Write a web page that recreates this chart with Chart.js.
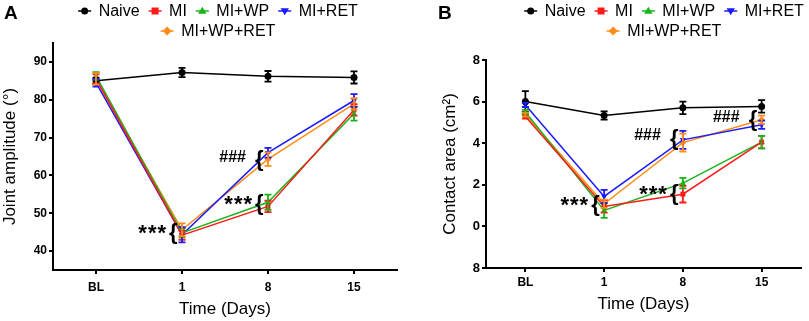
<!DOCTYPE html>
<html>
<head>
<meta charset="utf-8">
<script src="https://cdn.jsdelivr.net/npm/chart.js@4"></script>
<style>
  body { margin: 0; background: #fff; }
  #wrap { position: relative; width: 809px; height: 321px; }
  #chartA { position: absolute; left: 0; top: 0; }
  #chartB { position: absolute; left: 405px; top: 0; }
</style>
</head>
<body>
<div id="wrap">
  <canvas id="chartA" width="405" height="321"></canvas>
  <canvas id="chartB" width="404" height="321"></canvas>
</div>
<script>
  'use strict';

  // shared x categories
  var days = ['BL', '1', '8', '15'];
  var groups = ['Naive', 'MI', 'MI+WP', 'MI+RET', 'MI+WP+RET'];

  // Panel A - joint amplitude (deg)
  var jointNaive = [85.0, 87.2, 86.2, 85.9];
  var jointMI = [85.5, 44.2, 51.8, 77.3];
  var jointWP = [86.3, 44.8, 52.9, 76.3];
  var jointRET = [84.5, 44.3, 66.0, 79.8];
  var jointWPRET = [85.5, 45.6, 64.3, 78.9];
  var jointNaiveErr = [0.8, 1.2, 1.4, 1.6];
  var jointMIErr = [1.2, 1.2, 1.5, 1.5];
  var jointWPErr = [1.0, 1.2, 2.0, 1.8];
  var jointRETErr = [1.0, 2.0, 1.3, 1.7];
  var jointWPRETErr = [1.5, 1.7, 1.8, 1.5];
  var jointTicks = [40, 50, 60, 70, 80, 90];
  var jointNotes = [
    { text: '***', day: '1', value: 44.8 },
    { text: '***', day: '8', value: 52.4 },
    { text: '###', day: '8', value: 64.0 }
  ];

  // Panel B - contact area (cm2)
  var areaNaive = [6.0, 5.33, 5.70, 5.77];
  var areaMI = [5.28, 0.96, 1.55, 4.05];
  var areaWP = [5.50, 0.77, 2.08, 4.05];
  var areaRET = [5.84, 1.44, 4.16, 4.89];
  var areaWPRET = [5.38, 1.09, 4.03, 5.13];
  var areaNaiveErr = [0.5, 0.2, 0.3, 0.3];
  var areaMIErr = [0.1, 0.3, 0.4, 0.3];
  var areaWPErr = [0.1, 0.36, 0.25, 0.3];
  var areaRETErr = [0.1, 0.32, 0.43, 0.2];
  var areaWPRETErr = [0.1, 0.2, 0.43, 0.2];
  var areaTicks = [-2, 0, 2, 4, 6, 8];
  var areaTickLabels = ['8', '0', '2', '4', '6', '8'];
  var areaNotes = [
    { text: '***', day: '1', value: 1.04 },
    { text: '***', day: '8', value: 1.57 },
    { text: '###', day: '8', value: 4.2 },
    { text: '###', day: '15', value: 5.1 }
  ];

  var FONT = "'Liberation Sans', Arial, sans-serif";
  var colors = ['#000000', '#ff1a1a', '#19b419', '#1a1aff', '#ff8c1a'];
  var styles = ['circle', 'rect', 'triangle', 'triangle', 'rectRot'];
  var rotations = [0, 0, 0, 180, 0];

  function drawMarker(ctx, style, rot, x, y, r) {
    ctx.beginPath();
    if (style === 'circle') {
      ctx.arc(x, y, r, 0, Math.PI * 2);
    } else if (style === 'rect') {
      ctx.rect(x - r, y - r, 2 * r, 2 * r);
    } else if (style === 'rectRot') {
      ctx.moveTo(x, y - r * 1.3); ctx.lineTo(x + r * 1.3, y);
      ctx.lineTo(x, y + r * 1.3); ctx.lineTo(x - r * 1.3, y);
    } else {
      var s = rot === 180 ? -1 : 1;
      ctx.moveTo(x, y - s * r * 1.2); ctx.lineTo(x + r * 1.2, y + s * r * 0.8);
      ctx.lineTo(x - r * 1.2, y + s * r * 0.8);
    }
    ctx.closePath();
    ctx.fill();
  }

  // error bars, centred on each plotted point
  var errorBars = {
    id: 'errorBars',
    afterDatasetsDraw: function (chart) {
      var ctx = chart.ctx;
      var ys = chart.scales.y;
      ctx.save();
      chart.data.datasets.forEach(function (ds, i) {
        var meta = chart.getDatasetMeta(i);
        meta.data.forEach(function (pt, j) {
          var v = ds.data[j], e = ds.errors[j];
          var top = ys.getPixelForValue(v + e);
          var bot = ys.getPixelForValue(v - e);
          ctx.strokeStyle = ds.borderColor;
          ctx.lineWidth = 1.8;
          ctx.beginPath();
          ctx.moveTo(pt.x, top); ctx.lineTo(pt.x, bot);
          ctx.moveTo(pt.x - 3.5, top); ctx.lineTo(pt.x + 3.5, top);
          ctx.moveTo(pt.x - 3.5, bot); ctx.lineTo(pt.x + 3.5, bot);
          ctx.stroke();
        });
      });
      ctx.restore();
    }
  };

  // significance marks: text plus a brace left of the point group
  var sigNotes = {
    id: 'sigNotes',
    afterDatasetsDraw: function (chart, args, opts) {
      var ctx = chart.ctx;
      ctx.save();
      ctx.fillStyle = '#000';
      ctx.textBaseline = 'middle';
      (opts.notes || []).forEach(function (n) {
        var x = chart.scales.x.getPixelForValue(days.indexOf(n.day)) - 13;
        var y = chart.scales.y.getPixelForValue(n.value);
        ctx.font = 'bold 22px ' + FONT;
        ctx.textAlign = 'left';
        ctx.fillText('{', x, y);
        ctx.textAlign = 'right';
        if (n.text === '***') {
          ctx.font = 'bold 22px ' + FONT;
          ctx.letterSpacing = '1px';
          ctx.fillText(n.text, x - 2, y + 1);
        } else {
          ctx.font = 'bold 16px ' + FONT;
          ctx.letterSpacing = '0px';
          ctx.fillText(n.text, x - 9, y - 3);
        }
        ctx.letterSpacing = '0px';
      });
      ctx.restore();
    }
  };

  // legend: short line with marker, label; rows centred
  var lineLegend = {
    id: 'lineLegend',
    afterDraw: function (chart, args, opts) {
      var ctx = chart.ctx;
      var rows = [[0, 1, 2, 3], [4]];
      ctx.save();
      ctx.font = '16px ' + FONT;
      ctx.textBaseline = 'middle';
      ctx.textAlign = 'left';
      rows.forEach(function (row, r) {
        var widths = row.map(function (i) {
          return 20.5 + ctx.measureText(groups[i]).width;
        });
        var total = widths.reduce(function (a, b) { return a + b; }, 0) + 9 * (row.length - 1);
        var x = opts.centerX - total / 2;
        var y = 11 + r * 20;
        row.forEach(function (i, k) {
          ctx.strokeStyle = colors[i];
          ctx.fillStyle = colors[i];
          ctx.lineWidth = 1.5;
          ctx.beginPath();
          ctx.moveTo(x, y); ctx.lineTo(x + 13, y);
          ctx.stroke();
          drawMarker(ctx, styles[i], rotations[i], x + 6.5, y, 3.5);
          ctx.fillStyle = '#000';
          ctx.fillText(groups[i], x + 20.5, y + 1);
          x += widths[k] + 9;
        });
      });
      ctx.font = 'bold 19px ' + FONT;
      ctx.fillText(opts.letter, opts.letterX, 14);
      ctx.restore();
    }
  };

  function makeDatasets(values, errs) {
    return values.map(function (vals, i) {
      return {
        label: groups[i],
        data: vals,
        errors: errs[i],
        borderColor: colors[i],
        backgroundColor: colors[i],
        borderWidth: 1.5,
        pointStyle: styles[i],
        pointRotation: rotations[i],
        pointRadius: 3.5,
        pointBorderWidth: 0,
        tension: 0,
        fill: false
      };
    });
  }

  function makeChart(el, cfg) {
    return new Chart(el, {
      type: 'line',
      data: { labels: days, datasets: cfg.datasets },
      plugins: [errorBars, sigNotes, lineLegend],
      options: {
        responsive: false,
        animation: false,
        layout: { padding: cfg.padding },
        plugins: {
          legend: { display: false },
          tooltip: { enabled: false },
          sigNotes: { notes: cfg.notes },
          lineLegend: { centerX: cfg.legendX, letter: cfg.letter, letterX: cfg.letterX }
        },
        scales: {
          x: {
            offset: true,
            afterFit: function (s) { s.height = cfg.xHeight; },
            grid: { display: true, drawOnChartArea: false, drawTicks: true, tickLength: 4, color: '#000', lineWidth: 2 },
            border: { display: true, color: '#000', width: 2 },
            ticks: { color: '#000', padding: cfg.xTickPad, font: { family: FONT, weight: 'bold', size: 12 } },
            title: {
              display: true, text: 'Time (Days)', color: '#000',
              font: { family: FONT, size: 17 }, padding: { top: 0, bottom: cfg.xTitlePad }
            }
          },
          y: {
            min: cfg.min,
            max: cfg.max,
            afterFit: function (s) { s.width = cfg.yWidth; },
            afterBuildTicks: function (s) {
              s.ticks = cfg.ticks.map(function (v) { return { value: v }; });
            },
            grid: { display: true, drawOnChartArea: false, drawTicks: true, tickLength: 4, color: '#000', lineWidth: 2 },
            border: { display: true, color: '#000', width: 2 },
            ticks: {
              color: '#000', padding: 2,
              font: { family: FONT, weight: 'bold', size: cfg.yTickSize },
              callback: function (v) {
                var k = cfg.ticks.indexOf(v);
                return cfg.tickLabels ? cfg.tickLabels[k] : String(v);
              }
            },
            title: {
              display: true, text: cfg.yTitle, color: '#000',
              font: { family: FONT, size: 17 }, padding: { top: 0, bottom: 0 }
            }
          }
        }
      }
    });
  }

  makeChart(document.getElementById('chartA'), {
    datasets: makeDatasets(
      [jointNaive, jointMI, jointWP, jointRET, jointWPRET],
      [jointNaiveErr, jointMIErr, jointWPErr, jointRETErr, jointWPRETErr]
    ),
    notes: jointNotes,
    ticks: jointTicks,
    min: 35, max: 95,
    padding: { left: 0, right: 8, top: 43, bottom: 0 },
    yWidth: 53, xHeight: 51, xTickPad: 6, xTitlePad: 1, yTickSize: 12,
    yTitle: 'Joint amplitude (°)',
    legendX: 218, letter: 'A', letterX: 4
  });

  makeChart(document.getElementById('chartB'), {
    datasets: makeDatasets(
      [areaNaive, areaMI, areaWP, areaRET, areaWPRET],
      [areaNaiveErr, areaMIErr, areaWPErr, areaRETErr, areaWPRETErr]
    ),
    notes: areaNotes,
    ticks: areaTicks,
    tickLabels: areaTickLabels,
    min: -2, max: 8,
    padding: { left: 35, right: 8, top: 60, bottom: 0 },
    yWidth: 46, xHeight: 53, xTickPad: 3, xTitlePad: 6, yTickSize: 13,
    yTitle: 'Contact area (cm²)',
    legendX: 259, letter: 'B', letterX: 33
  });
</script>
</body>
</html>
